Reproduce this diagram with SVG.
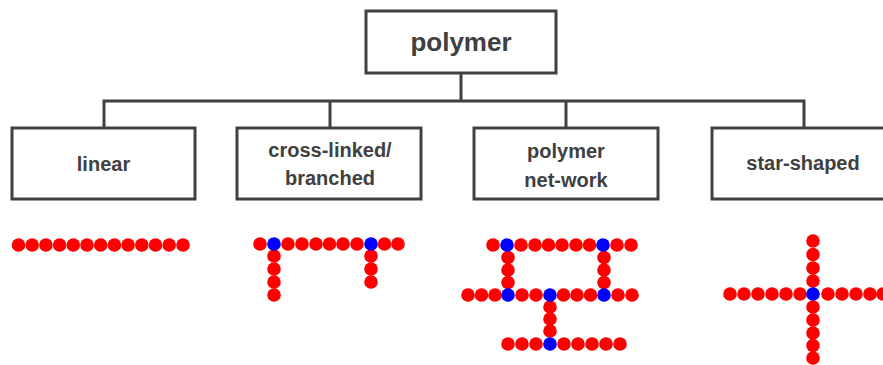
<svg xmlns="http://www.w3.org/2000/svg" width="883" height="365" viewBox="0 0 883 365">
<style>
.box{fill:#fff;stroke:#404040;stroke-width:3}
.ln{fill:none;stroke:#404040;stroke-width:3}
.t{font-family:"Liberation Sans",Arial,sans-serif;font-weight:bold;fill:#404040;text-anchor:middle}
.r{fill:#ff0000}
.b{fill:#0000ff}
</style>
<rect width="883" height="365" fill="#fff"/>
<g id="connectors">
<path class="ln" d="M461,73 V101 M104,128 V101 H804 V128 M330,101 V128 M566,101 V128"/>
</g>
<g id="root">
<rect class="box" x="366" y="11" width="190" height="62"/>
<text class="t" x="461" y="51" font-size="26">polymer</text>
</g>
<g id="linear">
<rect class="box" x="12" y="128" width="183" height="71"/>
<text class="t" x="103.5" y="171" font-size="20">linear</text>
</g>
<g id="crosslinked">
<rect class="box" x="237" y="128" width="184" height="71"/>
<text class="t" x="330" y="157" font-size="20">cross-linked/</text>
<text class="t" x="330" y="185" font-size="20">branched</text>
</g>
<g id="network">
<rect class="box" x="474" y="128" width="184" height="71"/>
<text class="t" x="566" y="158" font-size="20">polymer</text>
<text class="t" x="566" y="187" font-size="20">net-work</text>
</g>
<g id="star">
<rect class="box" x="712" y="128" width="180" height="71"/>
<text class="t" x="803" y="170" font-size="20">star-shaped</text>
</g>
<g id="linear-chain">
<circle class="r" cx="18.5" cy="245" r="6.8"/><circle class="r" cx="32.2" cy="245" r="6.8"/><circle class="r" cx="45.9" cy="245" r="6.8"/><circle class="r" cx="59.6" cy="245" r="6.8"/><circle class="r" cx="73.3" cy="245" r="6.8"/><circle class="r" cx="87" cy="245" r="6.8"/><circle class="r" cx="100.7" cy="245" r="6.8"/><circle class="r" cx="114.4" cy="245" r="6.8"/><circle class="r" cx="128.1" cy="245" r="6.8"/><circle class="r" cx="141.8" cy="245" r="6.8"/><circle class="r" cx="155.5" cy="245" r="6.8"/><circle class="r" cx="169.2" cy="245" r="6.8"/><circle class="r" cx="183" cy="245" r="6.8"/>
</g>
<g id="branched-chain">
<circle class="r" cx="260" cy="244" r="6.8"/><circle class="r" cx="288" cy="244" r="6.8"/><circle class="r" cx="302" cy="244" r="6.8"/><circle class="r" cx="316" cy="244" r="6.8"/><circle class="r" cx="329.5" cy="244" r="6.8"/><circle class="r" cx="343" cy="244" r="6.8"/><circle class="r" cx="357" cy="244" r="6.8"/><circle class="r" cx="384.5" cy="244" r="6.8"/><circle class="r" cx="398" cy="244" r="6.8"/>
<circle class="r" cx="274" cy="256" r="6.8"/><circle class="r" cx="274" cy="269" r="6.8"/><circle class="r" cx="274" cy="282" r="6.8"/><circle class="r" cx="274" cy="295" r="6.8"/>
<circle class="r" cx="371" cy="256" r="6.8"/><circle class="r" cx="371" cy="269" r="6.8"/><circle class="r" cx="371" cy="282" r="6.8"/>
<circle class="b" cx="274" cy="244" r="6.8"/><circle class="b" cx="371" cy="244" r="6.8"/>
</g>
<g id="network-chain">
<circle class="r" cx="493" cy="245" r="6.8"/><circle class="r" cx="521" cy="245" r="6.8"/><circle class="r" cx="535" cy="245" r="6.8"/><circle class="r" cx="548.5" cy="245" r="6.8"/><circle class="r" cx="562" cy="245" r="6.8"/><circle class="r" cx="576" cy="245" r="6.8"/><circle class="r" cx="589.5" cy="245" r="6.8"/><circle class="r" cx="617" cy="245" r="6.8"/><circle class="r" cx="631" cy="245" r="6.8"/>
<circle class="r" cx="508" cy="257.5" r="6.8"/><circle class="r" cx="508" cy="270" r="6.8"/><circle class="r" cx="508" cy="282.5" r="6.8"/>
<circle class="r" cx="604" cy="257.5" r="6.8"/><circle class="r" cx="604" cy="270" r="6.8"/><circle class="r" cx="604" cy="282.5" r="6.8"/>
<circle class="r" cx="468" cy="295" r="6.8"/><circle class="r" cx="481.5" cy="295" r="6.8"/><circle class="r" cx="495" cy="295" r="6.8"/><circle class="r" cx="522" cy="295" r="6.8"/><circle class="r" cx="536" cy="295" r="6.8"/><circle class="r" cx="563.5" cy="295" r="6.8"/><circle class="r" cx="577" cy="295" r="6.8"/><circle class="r" cx="590.5" cy="295" r="6.8"/><circle class="r" cx="618" cy="295" r="6.8"/><circle class="r" cx="632" cy="295" r="6.8"/>
<circle class="r" cx="550" cy="307" r="6.8"/><circle class="r" cx="550" cy="319" r="6.8"/><circle class="r" cx="550" cy="331" r="6.8"/>
<circle class="r" cx="508" cy="344" r="6.8"/><circle class="r" cx="522" cy="344" r="6.8"/><circle class="r" cx="536" cy="344" r="6.8"/><circle class="r" cx="564" cy="344" r="6.8"/><circle class="r" cx="578" cy="344" r="6.8"/><circle class="r" cx="592" cy="344" r="6.8"/><circle class="r" cx="606" cy="344" r="6.8"/><circle class="r" cx="620" cy="344" r="6.8"/>
<circle class="b" cx="507" cy="245" r="6.8"/><circle class="b" cx="603" cy="245" r="6.8"/><circle class="b" cx="508" cy="295" r="6.8"/><circle class="b" cx="550" cy="295" r="6.8"/><circle class="b" cx="604" cy="295" r="6.8"/><circle class="b" cx="550" cy="344" r="6.8"/>
</g>
<g id="star-chain">
<circle class="r" cx="730" cy="294" r="6.8"/><circle class="r" cx="744" cy="294" r="6.8"/><circle class="r" cx="758" cy="294" r="6.8"/><circle class="r" cx="772" cy="294" r="6.8"/><circle class="r" cx="786" cy="294" r="6.8"/><circle class="r" cx="800" cy="294" r="6.8"/><circle class="r" cx="828" cy="294" r="6.8"/><circle class="r" cx="842" cy="294" r="6.8"/><circle class="r" cx="856" cy="294" r="6.8"/><circle class="r" cx="870" cy="294" r="6.8"/><circle class="r" cx="883" cy="294" r="6.8"/>
<circle class="r" cx="813" cy="241" r="6.8"/><circle class="r" cx="813" cy="254.5" r="6.8"/><circle class="r" cx="813" cy="268" r="6.8"/><circle class="r" cx="813" cy="281" r="6.8"/>
<circle class="r" cx="813" cy="307" r="6.8"/><circle class="r" cx="813" cy="320" r="6.8"/><circle class="r" cx="813" cy="333" r="6.8"/><circle class="r" cx="813" cy="345.5" r="6.8"/><circle class="r" cx="813" cy="358" r="6.8"/>
<circle class="b" cx="813" cy="294" r="6.8"/>
</g>
</svg>
